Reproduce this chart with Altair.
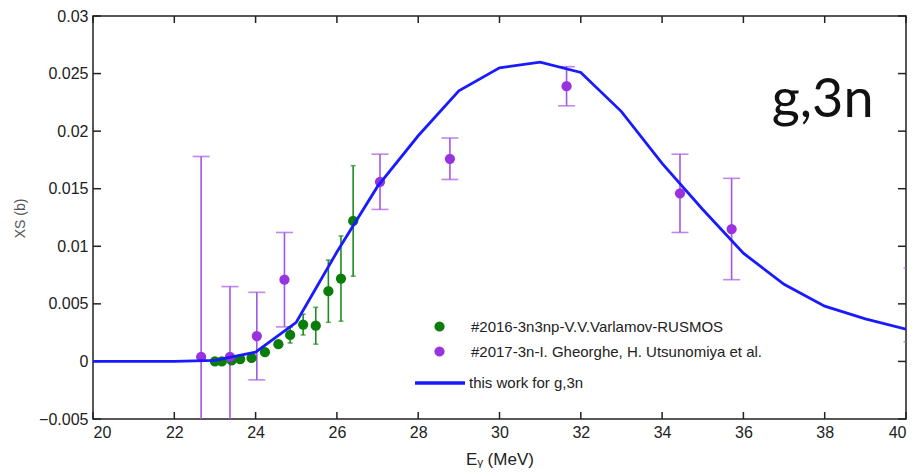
import altair as alt
import pandas as pd

# ---------------- data ----------------
curve_e = [20, 21, 22, 23, 24, 25, 26, 27, 28, 29, 30, 31, 32, 33, 34, 35, 36, 37, 38, 39, 40]
curve_xs = [0.0, 0.0, 0.0, 0.0001, 0.0008, 0.0034, 0.0095, 0.0152, 0.0196, 0.0235, 0.0255,
            0.0260, 0.0251, 0.0217, 0.0172, 0.0132, 0.0094, 0.0067, 0.0048, 0.0037, 0.0028]

green_e = [23.0, 23.17, 23.41, 23.62, 23.9, 24.23, 24.56, 24.85, 25.17, 25.48, 25.79, 26.1, 26.4]
green_xs = [0.0000, 0.0000, 0.0001, 0.0002, 0.0003, 0.0008, 0.0015, 0.0023, 0.0032, 0.0031,
            0.0061, 0.0072, 0.0122]
green_err = [0.0, 0.0, 0.0, 0.0, 0.0, 0.0, 0.0003, 0.0007, 0.0009, 0.0016, 0.0027, 0.0037, 0.0048]

purple_e = [22.66, 23.37, 24.03, 24.71, 27.06, 28.78, 31.65, 34.44, 35.71, 40.15]
purple_xs = [0.0004, 0.0004, 0.0022, 0.0071, 0.0156, 0.0176, 0.0239, 0.0146, 0.0115, 0.0049]
purple_err = [0.0174, 0.0061, 0.0038, 0.0041, 0.0024, 0.0018, 0.0017, 0.0034, 0.0044, 0.0032]

green_name = "#2016-3n3np-V.V.Varlamov-RUSMOS"
purple_name = "#2017-3n-I. Gheorghe, H. Utsunomiya et al."
line_name = "this work for g,3n"

x_ticks = [20, 22, 24, 26, 28, 30, 32, 34, 36, 38, 40]
y_ticks = [-0.005, 0.0, 0.005, 0.01, 0.015, 0.02, 0.025, 0.03]

annot_text = ["g,3n"]
annot_x = [37.95]
annot_y = [0.0212]

# ---------------- tables ----------------
curve_df = pd.DataFrame({"E": curve_e, "XS": curve_xs, "series": line_name})
green_df = pd.DataFrame({"E": green_e, "XS": green_xs, "err": green_err, "series": green_name})
purple_df = pd.DataFrame({"E": purple_e, "XS": purple_xs, "err": purple_err, "series": purple_name})
for d in (green_df, purple_df):
    d["lo"] = d["XS"] - d["err"]
    d["hi"] = d["XS"] + d["err"]
points_df = pd.concat([green_df, purple_df], ignore_index=True)
green_bars = green_df[green_df["err"] > 0]

W, H = 813, 403
FONT = "Liberation Sans"

xs = alt.Scale(domain=[20, 40], nice=False, zero=False)
ys = alt.Scale(domain=[-0.005, 0.03], nice=False, zero=False)

X = alt.X("E:Q", scale=xs, axis=alt.Axis(values=x_ticks, title="Eᵧ (MeV)", ticks=False, domain=False,
                                         grid=False, labelPadding=5, titlePadding=11, format="d",
                                         labelFont=FONT, labelFontSize=16, labelColor="#222",
                                         titleFont=FONT, titleFontSize=17, titleColor="#222",
                                         titleFontWeight="normal"))
Y = alt.Y("XS:Q", scale=ys, axis=alt.Axis(values=y_ticks, title="XS (b)", ticks=False, domain=False,
                                          grid=False, labelPadding=5, format=".3~f",
                                          labelFont=FONT, labelFontSize=16, labelColor="#222",
                                          titleFont=FONT, titleFontWeight="normal",
                                          titleX=-66, titleY=202, titleColor="#555",
                                          titleFontSize=14))


def errbars(df, color, cap):
    base = alt.Chart(df)
    rule = base.mark_rule(color=color, strokeWidth=1.6, clip=True).encode(
        x=alt.X("E:Q", scale=xs), y=alt.Y("lo:Q", scale=ys), y2="hi:Q")
    lo = base.mark_tick(color=color, orient="horizontal", size=cap, thickness=1.6, clip=True).encode(
        x=alt.X("E:Q", scale=xs), y=alt.Y("lo:Q", scale=ys))
    hi = base.mark_tick(color=color, orient="horizontal", size=cap, thickness=1.6, clip=True).encode(
        x=alt.X("E:Q", scale=xs), y=alt.Y("hi:Q", scale=ys))
    return rule + lo + hi


purple_err_layer = errbars(purple_df, "#a455e6", 17)
green_err_layer = errbars(green_bars, "#1f8a1f", 5)

points = alt.Chart(points_df).mark_circle(size=105, opacity=1, clip=True).encode(
    x=X, y=Y,
    color=alt.Color("series:N",
                    scale=alt.Scale(domain=[green_name, purple_name], range=["#0b7d0b", "#9933dd"]),
                    legend=alt.Legend(title=None, orient="none", legendX=339, legendY=303,
                                      symbolType="circle", symbolSize=105, padding=0,
                                      labelFont=FONT, labelFontSize=15, labelColor="#222",
                                      labelLimit=0, labelOffset=24, rowPadding=9)))

line = alt.Chart(curve_df).mark_line(strokeWidth=2.8, clip=True).encode(
    x=alt.X("E:Q", scale=xs), y=alt.Y("XS:Q", scale=ys),
    color=alt.Color("series:N", scale=alt.Scale(domain=[line_name], range=["#1a1aff"]),
                    legend=alt.Legend(title=None, orient="none", legendX=320, legendY=340,
                                      symbolType="stroke", symbolSize=2500, symbolStrokeWidth=3.5,
                                      padding=0, labelFont=FONT, labelFontSize=15,
                                      labelColor="#222", labelLimit=0, labelOffset=2)))

annot = alt.Chart(pd.DataFrame({"E": annot_x, "XS": annot_y, "t": annot_text})).mark_text(
    font="Lato", fontSize=54, color="#111", align="center", baseline="alphabetic").encode(
    x=alt.X("E:Q", scale=xs), y=alt.Y("XS:Q", scale=ys), text="t:N")

# inward frame ticks
xt = pd.DataFrame({"E": x_ticks})
yt = pd.DataFrame({"XS": y_ticks})
tk = dict(color="#222", strokeWidth=1.5)
bot = alt.Chart(xt).mark_rule(**tk).encode(x=alt.X("E:Q", scale=xs), y=alt.value(H), y2=alt.value(H - 7))
top = alt.Chart(xt).mark_rule(**tk).encode(x=alt.X("E:Q", scale=xs), y=alt.value(0), y2=alt.value(7))
lft = alt.Chart(yt).mark_rule(**tk).encode(y=alt.Y("XS:Q", scale=ys), x=alt.value(0), x2=alt.value(8))
rgt = alt.Chart(yt).mark_rule(**tk).encode(y=alt.Y("XS:Q", scale=ys), x=alt.value(W), x2=alt.value(W - 8))

chart = alt.layer(
    bot, top, lft, rgt,
    purple_err_layer, green_err_layer, points, line, annot
).resolve_scale(color="independent").properties(
    width=W, height=H,
    background="white",
    autosize=alt.AutoSizeParams(type="none"),
    padding={"left": 85, "top": 8, "right": 8, "bottom": 49},
).configure_view(stroke="#222", strokeWidth=1.5)

chart.save("out.html", embed_options={"renderer": "svg", "actions": False})
